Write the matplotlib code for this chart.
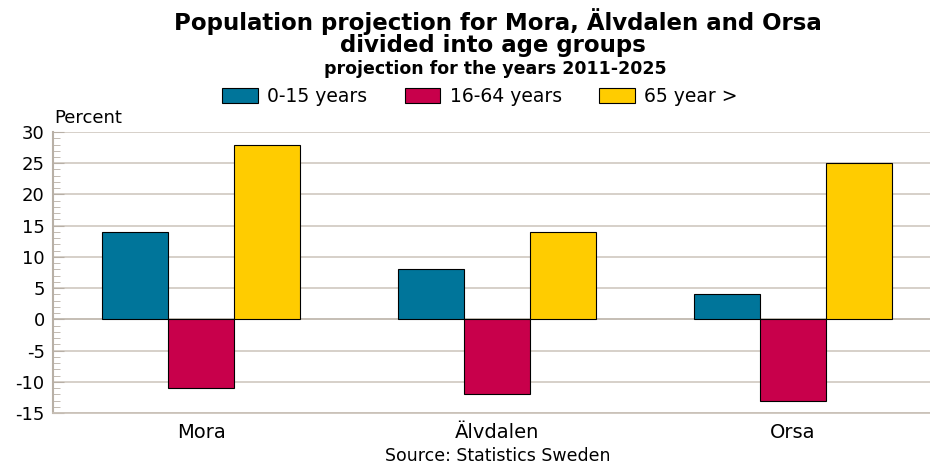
import numpy as np
import matplotlib.pyplot as plt
from matplotlib.ticker import MultipleLocator

plt.rcParams['font.family'] = ['DejaVu Sans']
plt.rcParams['axes.unicode_minus'] = False

kommuner = ['Mora', 'Älvdalen', 'Orsa']
grupper = ['0-15 years', '16-64 years', '65 year >']
v_0_15 = [14, 8, 4]
v_16_64 = [-11, -12, -13]
v_65 = [28, 14, 25]
farger = ['#00759a', '#c8004b', '#ffcc00']

fig = plt.figure(figsize=(9.3, 4.66), dpi=100)
ax = fig.add_axes([0.057, 0.1137, 0.943, 0.603])

x = np.arange(len(kommuner))
w = 0.223
for i, (vals, lab) in enumerate(zip([v_0_15, v_16_64, v_65], grupper)):
    ax.bar(x + (i - 1) * w, vals, w, color=farger[i], edgecolor='black',
           linewidth=0.8, label=lab, zorder=3)

ax.set_xlim(-0.5, 2.463)
ax.set_ylim(-15, 30)
ax.yaxis.set_major_locator(MultipleLocator(5))
ax.yaxis.set_minor_locator(MultipleLocator(1))
ax.set_xticks(x)
ax.set_xticklabels(kommuner)
ax.grid(axis='y', color='#ccc4ba', linewidth=1.1, zorder=0)
ax.axhline(0, color='#a8a098', linewidth=1.2, zorder=1)

for s in ['top', 'right']:
    ax.spines[s].set_visible(False)
ax.spines['left'].set_color('#b8b0a6')
ax.spines['left'].set_linewidth(1.5)
ax.spines['bottom'].set_color('#c8c0b6')
ax.spines['bottom'].set_linewidth(1.2)
ax.tick_params(axis='y', which='both', direction='in', color='#b8b0a6',
               labelsize=13, pad=6)
ax.tick_params(axis='y', which='major', length=8)
ax.tick_params(axis='y', which='minor', length=5)
ax.tick_params(axis='x', length=0, labelsize=14, pad=7)

fig.text(0.535, 0.953, 'Population projection for Mora, Älvdalen and Orsa',
         ha='center', va='center', fontsize=16.5, fontweight='bold')
fig.text(0.53, 0.902, 'divided into age groups', ha='center', va='center',
         fontsize=16.5, fontweight='bold')
fig.text(0.533, 0.852, 'projection for the years 2011-2025', ha='center',
         va='center', fontsize=12.5, fontweight='bold')
fig.text(0.058, 0.747, 'Percent', ha='left', va='center', fontsize=13)
fig.text(0.535, 0.022, 'Source: Statistics Sweden', ha='center', va='center',
         fontsize=12.5)

fig.legend(loc='center', bbox_to_anchor=(0.516, 0.793), ncol=3, frameon=False,
           fontsize=13.5, handlelength=1.9, handleheight=0.8, columnspacing=2.0,
           handletextpad=0.5)

fig.savefig('out.png', dpi=100)
